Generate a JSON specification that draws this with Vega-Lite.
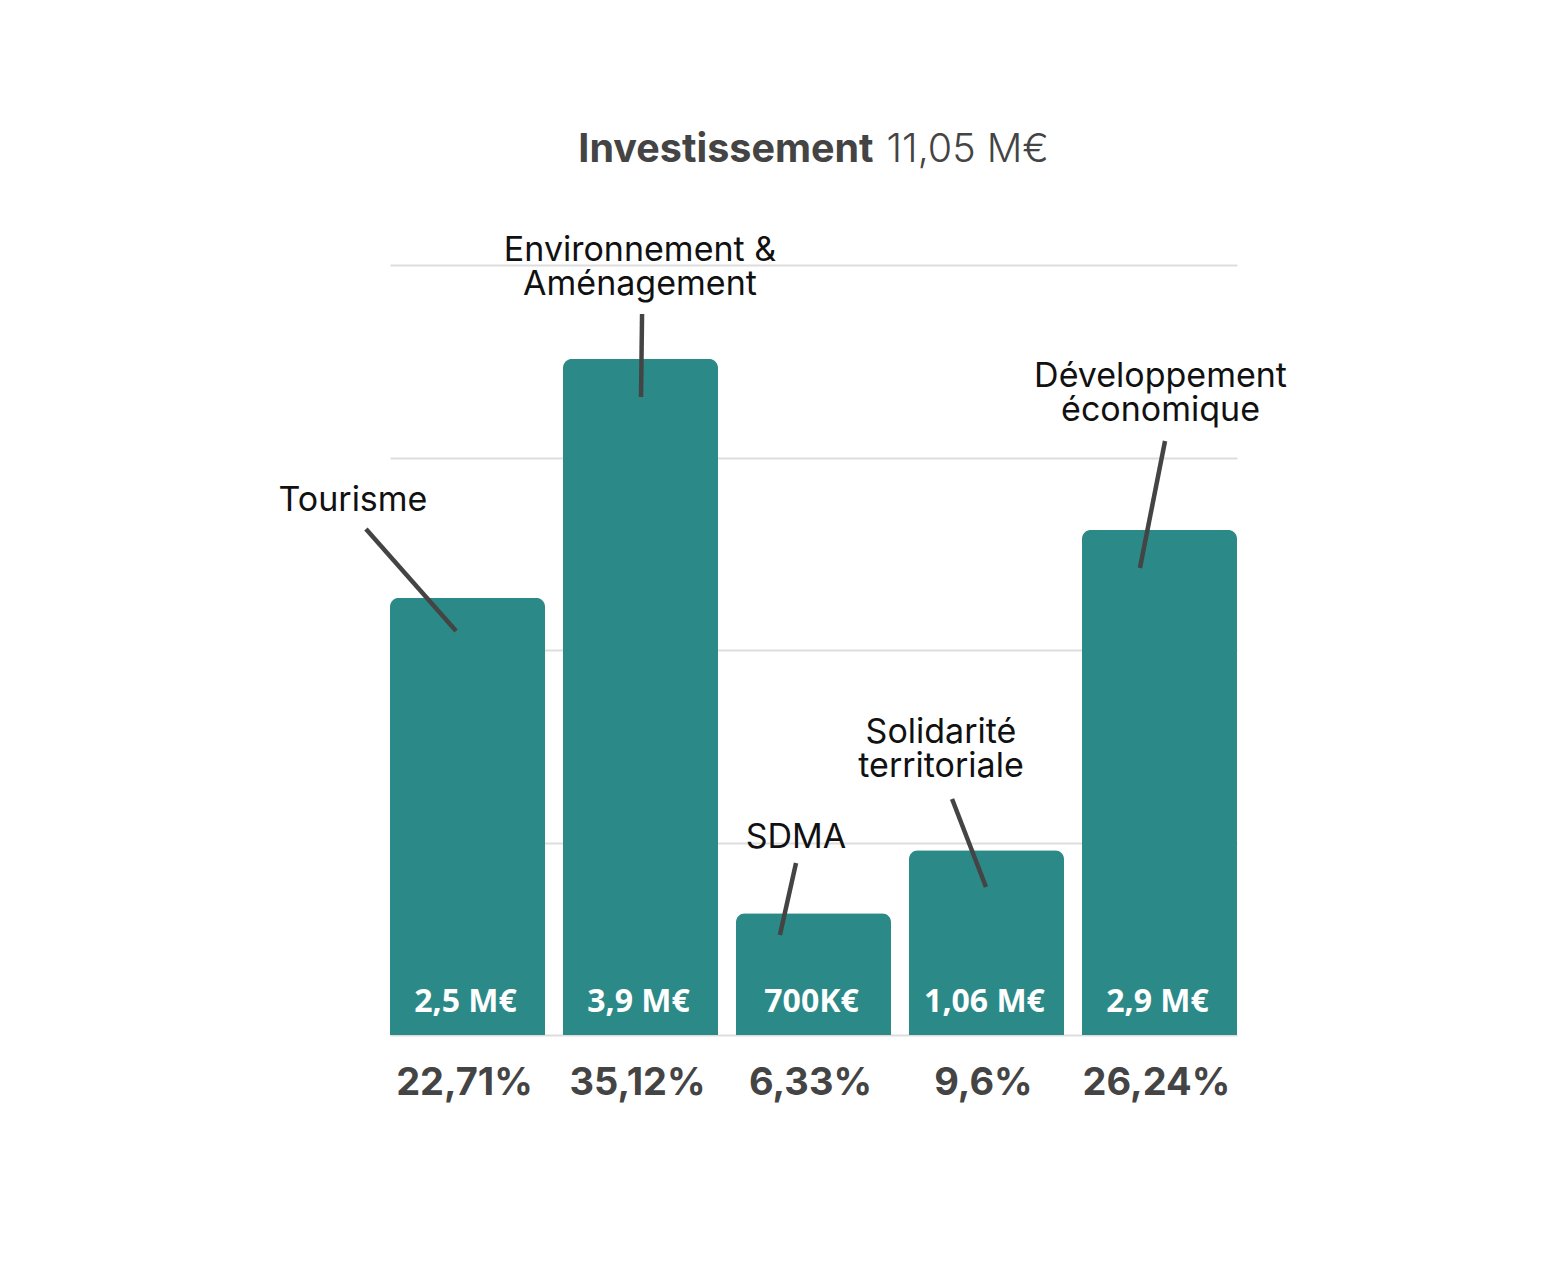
{
  "$schema": "https://vega.github.io/schema/vega-lite/v6.json",
  "width": 847,
  "height": 770,
  "autosize": {"type": "none"},
  "padding": {"left": 390, "top": 265, "right": 319, "bottom": 250},
  "background": "white",
  "config": {"view": {"stroke": null}},
  "datasets": {
    "bars": [
      {"cat": "Tourisme", "pct": 22.71, "val": "2,5 M€", "pctLabel": "22,71%"},
      {"cat": "Environnement & Aménagement", "pct": 35.12, "val": "3,9 M€", "pctLabel": "35,12%"},
      {"cat": "SDMA", "pct": 6.33, "val": "700K€", "pctLabel": "6,33%"},
      {"cat": "Solidarité territoriale", "pct": 9.6, "val": "1,06 M€", "pctLabel": "9,6%"},
      {"cat": "Développement économique", "pct": 26.24, "val": "2,9 M€", "pctLabel": "26,24%"}
    ],
    "labels": [
      {"label": ["Tourisme"], "lx": -0.214, "ly": 27.22},
      {"label": ["Environnement &", "Aménagement"], "lx": 1.445, "ly": 40.21},
      {"label": ["SDMA"], "lx": 2.347, "ly": 9.71},
      {"label": ["Solidarité", "territoriale"], "lx": 3.185, "ly": 15.17},
      {"label": ["Développement", "économique"], "lx": 4.454, "ly": 33.66}
    ],
    "leaders": [
      {"x1": -0.139, "y1": 26.29, "x2": 0.382, "y2": 20.99},
      {"x1": 1.457, "y1": 37.45, "x2": 1.451, "y2": 33.14},
      {"x1": 2.347, "y1": 8.94, "x2": 2.254, "y2": 5.19},
      {"x1": 3.249, "y1": 12.26, "x2": 3.445, "y2": 7.69},
      {"x1": 4.48, "y1": 30.86, "x2": 4.335, "y2": 24.26}
    ],
    "title": [
      {"part": "Investissement", "tx": 2.46, "ty": 45.35}
    ],
    "title2": [
      {"part": "11,05 M€", "tx": 2.46, "ty": 45.35}
    ]
  },
  "layer": [
    {
      "data": {"name": "bars"},
      "encoding": {
        "x": {
          "field": "cat", "type": "nominal", "sort": null,
          "scale": {"paddingInner": 0.104, "paddingOuter": 0},
          "axis": null
        },
        "y": {
          "field": "pct", "type": "quantitative",
          "scale": {"domain": [0, 40], "nice": false},
          "axis": {
            "values": [0, 10, 20, 30, 40], "grid": true, "gridColor": "#dddddd",
            "gridWidth": 2, "domain": false, "ticks": false, "labels": false, "title": null
          }
        }
      },
      "layer": [
        {
          "mark": {"type": "bar", "color": "#2b8a88", "cornerRadiusTopLeft": 9, "cornerRadiusTopRight": 9}
        },
        {
          "mark": {"type": "text", "color": "white", "font": "Open Sans", "fontWeight": "bold", "fontSize": 32, "baseline": "middle", "dy": -33, "dx": -2},
          "encoding": {"y": {"datum": 0}, "text": {"field": "val"}}
        },
        {
          "mark": {"type": "text", "color": "#444444", "font": "Inter", "fontWeight": "bold", "fontSize": 38, "letterSpacing": -0.6, "baseline": "middle", "dy": 49, "dx": -3},
          "encoding": {"y": {"datum": 0}, "text": {"field": "pctLabel"}}
        }
      ]
    },
    {
      "data": {"name": "leaders"},
      "mark": {"type": "rule", "color": "#444444", "strokeWidth": 4.5},
      "encoding": {
        "x": {"field": "x1", "type": "quantitative", "scale": {"domain": [0, 4.896], "nice": false, "zero": false}, "axis": null},
        "x2": {"field": "x2"},
        "y": {"field": "y1", "type": "quantitative"},
        "y2": {"field": "y2"}
      }
    },
    {
      "data": {"name": "labels"},
      "mark": {"type": "text", "color": "#111111", "font": "Inter", "fontSize": 34, "letterSpacing": 1.4, "lineHeight": 34, "baseline": "alphabetic", "align": "center"},
      "encoding": {
        "x": {"field": "lx", "type": "quantitative", "scale": {"domain": [0, 4.896], "nice": false, "zero": false}, "axis": null},
        "y": {"field": "ly", "type": "quantitative"},
        "text": {"field": "label"}
      }
    },
    {
      "data": {"name": "title"},
      "mark": {"type": "text", "color": "#444444", "font": "Inter", "fontWeight": "bold", "fontSize": 39.5, "baseline": "alphabetic", "align": "right", "dx": 58},
      "encoding": {
        "x": {"field": "tx", "type": "quantitative", "scale": {"domain": [0, 4.896], "nice": false, "zero": false}, "axis": null},
        "y": {"field": "ty", "type": "quantitative"},
        "text": {"field": "part"}
      }
    },
    {
      "data": {"name": "title2"},
      "mark": {"type": "text", "color": "#444444", "font": "Inter", "fontWeight": 300, "fontSize": 39.5, "baseline": "alphabetic", "align": "left", "dx": 71},
      "encoding": {
        "x": {"field": "tx", "type": "quantitative", "scale": {"domain": [0, 4.896], "nice": false, "zero": false}, "axis": null},
        "y": {"field": "ty", "type": "quantitative"},
        "text": {"field": "part"}
      }
    }
  ],
  "resolve": {"scale": {"x": "independent"}}
}
